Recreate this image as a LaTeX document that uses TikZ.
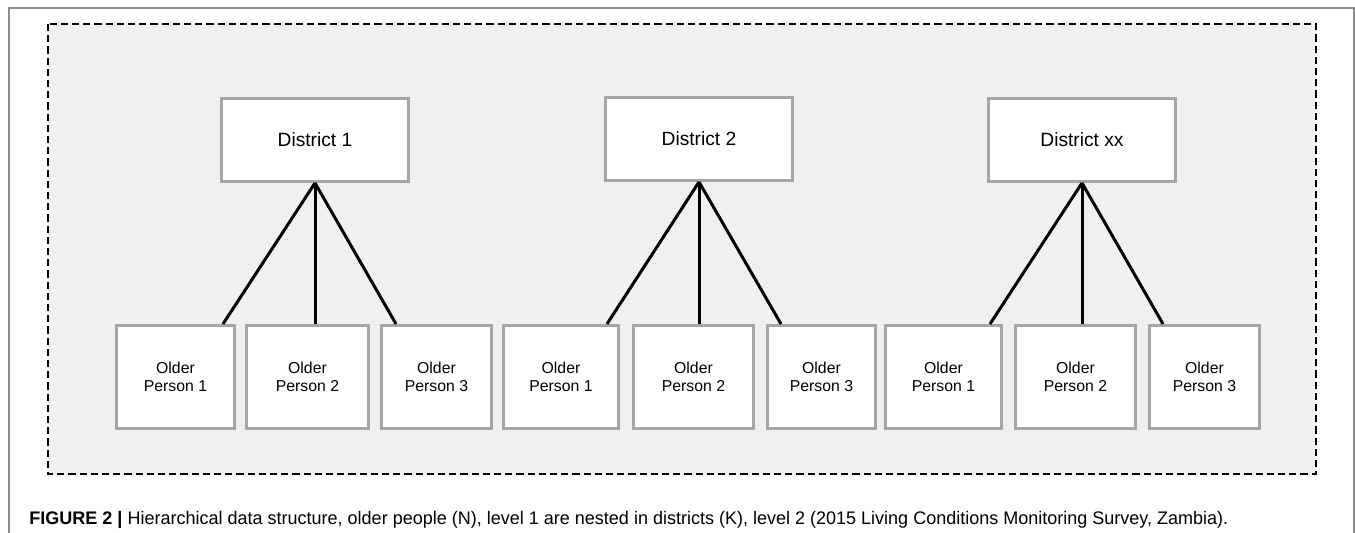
\documentclass[tikz,border=0pt]{standalone}
\usepackage{fontspec}
\setmainfont{Liberation Sans}
\usepackage{graphicx}
\definecolor{bgfill}{HTML}{F0F0F0}
\definecolor{boxline}{HTML}{A6A6A6}
\definecolor{frameline}{HTML}{8C8C8C}
\begin{document}
\begin{tikzpicture}[x=0.5pt,y=-0.5pt,
  dbox/.style={draw=boxline, fill=white, line width=1.5pt, minimum width=93.5pt, minimum height=41.5pt, inner sep=0pt, font=\fontsize{9.6}{11.5}\selectfont},
  pbox/.style={draw=boxline, fill=white, line width=1.5pt, minimum height=51.5pt, inner sep=0pt, align=center, font=\fontsize{7.9}{9}\selectfont},
  link/.style={line width=1.5pt, black}]
\useasboundingbox (0,0) rectangle (1355,533);
% outer frame
\draw[frameline, line width=0.75pt] (9,533) -- (9,8) -- (1354,8) -- (1354,533);
% dashed container
\draw[black, line width=1pt, dash pattern=on 3.6pt off 2pt, fill=bgfill] (48,24) rectangle (1316,474);
% districts
\node[dbox] (d1) at (315,140) {District 1};
\node[dbox] (d2) at (699,139) {District 2};
\node[dbox] (d3) at (1082,140) {District xx};
% persons
\node[pbox, minimum width=59pt] (p11) at (175.5,377) {Older\\Person 1};
\node[pbox, minimum width=61pt] (p12) at (307.5,377) {Older\\Person 2};
\node[pbox, minimum width=55pt] (p13) at (436.5,377) {Older\\Person 3};
\node[pbox, minimum width=57.5pt] (p21) at (561,377) {Older\\Person 1};
\node[pbox, minimum width=60pt] (p22) at (693.5,377) {Older\\Person 2};
\node[pbox, minimum width=54pt] (p23) at (821.5,377) {Older\\Person 3};
\node[pbox, minimum width=58pt] (p31) at (943.5,377) {Older\\Person 1};
\node[pbox, minimum width=60pt] (p32) at (1075.5,377) {Older\\Person 2};
\node[pbox, minimum width=55pt] (p33) at (1204.5,377) {Older\\Person 3};
% connectors
\draw[link] (d1.south) -- ([xshift=-6.5pt]p11.north east);
\draw[link] (d1.south) -- (d1.south |- p12.north);
\draw[link] (d1.south) -- ([xshift=8pt]p13.north west);
\draw[link] (d2.south) -- ([xshift=-6.5pt]p21.north east);
\draw[link] (d2.south) -- (d2.south |- p22.north);
\draw[link] (d2.south) -- ([xshift=7.5pt]p23.north west);
\draw[link] (d3.south) -- ([xshift=-6.5pt]p31.north east);
\draw[link] (d3.south) -- (d3.south |- p32.north);
\draw[link] (d3.south) -- ([xshift=7.5pt]p33.north west);
% caption
\node[anchor=base west, inner sep=0pt, font=\fontsize{9.1}{11}\selectfont] (cap) at (29,525)
  {\resizebox{599.5pt}{\height}{\textbf{FIGURE 2 |} Hierarchical data structure, older people (N), level 1 are nested in districts (K), level 2 (2015 Living Conditions Monitoring Survey, Zambia).}};
\end{tikzpicture}
\end{document}
